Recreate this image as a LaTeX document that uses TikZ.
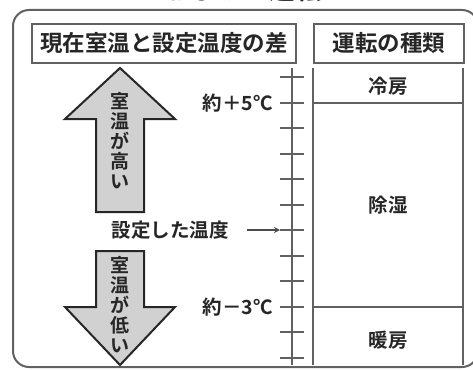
\documentclass[tikz,border=0pt]{standalone}
\usepackage{fontspec}
\usetikzlibrary{arrows.meta}
\setmainfont{Noto Sans CJK JP}[BoldFont={Noto Sans CJK JP Bold}]
\newfontfamily\jpb{Noto Sans CJK JP Bold}
\begin{document}
\begin{tikzpicture}[x=1pt,y=-1pt,
  gline/.style={draw=black!62,line width=2pt},
  hbox/.style={draw=black!62,line width=1.8pt,inner sep=0pt,minimum height=39pt},
  lbl/.style={text=black!85,font=\jpb\fontsize{19.5}{19.5}\selectfont,inner sep=0pt},
  hlbl/.style={text=black!85,font=\jpb\fontsize{22.5}{22.5}\selectfont,inner sep=0pt},
  arrowshape/.style={draw=black!85,line width=2pt,fill=black!18,line join=miter},
  vtext/.style={text=black!85,font=\jpb\fontsize{19}{19}\selectfont,inner sep=0pt,align=center}]
\useasboundingbox (0,0) rectangle (473,369);
\begin{scope}
\clip (0,0) rectangle (473,369);
% title (cut off at the top)
\node[lbl,font=\jpb\fontsize{26}{26}\selectfont,anchor=base] (title) at (243,0) {おまかせ運転};
% outer rounded frame
\draw[draw=black!62,line width=2pt,rounded corners=16pt] (13,10) rectangle (478,367);
\end{scope}
% header boxes
\node[hbox,minimum width=264pt,anchor=north west] (hl) at (31,23) {};
\node[hlbl] at (hl.center) {現在室温と設定温度の差};
\node[hbox,minimum width=150pt,anchor=north west] (hr) at (313,23) {};
\node[hlbl] at (hr.center) {運転の種類};
% scale
\coordinate (st) at (292,68);
\coordinate (sb) at (292,365);
\draw[gline] (st) -- (sb);
\foreach \i in {0,...,11}{
  \draw[gline] (280,{77+25.5*\i}) -- (304,{77+25.5*\i});
}
\coordinate (p5) at (280,102.5);
\coordinate (p0) at (280,230);
\coordinate (m3) at (280,306.5);
% mode column
\coordinate (ct) at (313,68);
\coordinate (cb) at (313,365);
\coordinate (rt) at (463,68);
\coordinate (rb) at (463,365);
\draw[gline] (ct) -- (cb);
\draw[gline] (rt) -- (rb);
\draw[gline] (313,102.5) -- (463,102.5);
\draw[gline] (313,306.5) -- (463,306.5);
\node[lbl] (cool) at (388,86) {冷房};
\node[lbl] (dry) at (388,205) {除湿};
\node[lbl] (heat) at (388,340) {暖房};
% scale labels
\node[lbl,anchor=east] (l5) at (273,103) {約＋5℃};
\node[lbl,anchor=east] (lm3) at (273,307) {約－3℃};
\node[lbl,anchor=east] (l0) at (229,230) {設定した温度};
\draw[draw=black!70,line width=1.4pt,-{Stealth[length=6pt,width=6pt]}] (l0.east) ++(18,0) coordinate (a0) -- (p0);
% up arrow
\draw[arrowshape] (120,68) -- (175,119) -- (144,119) -- (144,212) -- (96,212) -- (96,119) -- (65,119) -- cycle;
\node[vtext] (up) at (120,141) {室\\[1pt]温\\[1pt]が\\[1pt]高\\[1pt]い};
% down arrow
\draw[arrowshape] (96,251) -- (144,251) -- (144,307) -- (175,307) -- (120,365) -- (65,307) -- (96,307) -- cycle;
\node[vtext] (down) at (120,305) {室\\[1pt]温\\[1pt]が\\[1pt]低\\[1pt]い};
\end{tikzpicture}
\end{document}
